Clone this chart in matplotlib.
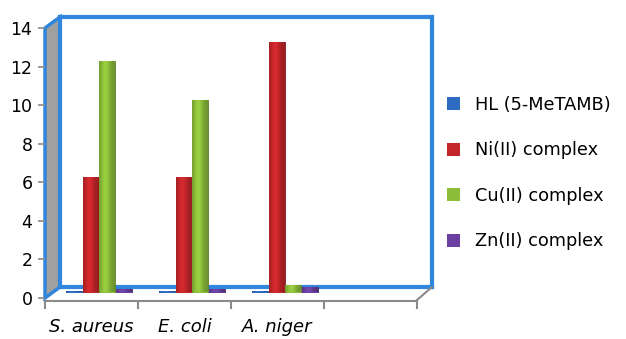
import numpy as np
import matplotlib
matplotlib.use("Agg")
import matplotlib.pyplot as plt
from matplotlib.patches import Polygon, Patch
from matplotlib.lines import Line2D
from matplotlib.colors import to_rgb

# ---- data ----
categories = ["S. aureus", "E. coli", "A. niger", ""]
series_names = ["HL (5-MeTAMB)", "Ni(II) complex", "Cu(II) complex", "Zn(II) complex"]
hl_vals = [0.1, 0.1, 0.1]
ni_vals = [6.0, 6.0, 13.0]
cu_vals = [12.0, 10.0, 0.4]
zn_vals = [0.2, 0.2, 0.3]
y_ticks = [0, 2, 4, 6, 8, 10, 12, 14]

colors = ["#2d6cc0", "#c3262a", "#8cbd3a", "#6a3f9f"]
FRAME = "#2f86dc"

W, H = 626, 339
fig = plt.figure(figsize=(W / 100, H / 100), dpi=100)
plt.rcParams["font.family"] = ["DejaVu Sans"]

def fx(px):
    return px / W

def fy(py):
    return 1 - py / H

# front plane in pixel coords
x0, x1 = 45, 417
y0, y14 = 298, 28
dx, dy = 15, -11  # depth offset

def rect(left, top, right, bottom):
    return [fx(left), fy(bottom), fx(right) - fx(left), fy(top) - fy(bottom)]

# decor: left gray wall
wall = Polygon([(fx(x0), fy(y0)), (fx(x0), fy(y14)), (fx(x0 + dx), fy(y14 + dy)),
                (fx(x0 + dx), fy(y0 + dy))], closed=True, transform=fig.transFigure,
               facecolor="#a0a0a0", edgecolor=FRAME, linewidth=2.5, zorder=0)
fig.add_artist(wall)

# back wall axes
axw = fig.add_axes(rect(x0 + dx, y14 + dy, x1 + dx, y0 + dy))
axw.set_xticks([]); axw.set_yticks([])
for s in axw.spines.values():
    s.set_color(FRAME); s.set_linewidth(3)
axw.patch.set_alpha(0)

# floor right edge (gray)
fig.add_artist(Line2D([fx(x1), fx(x1 + dx)], [fy(y0 + 2), fy(y0 + dy)],
                      transform=fig.transFigure, color="#8a8a8a", lw=1.5))

# front axes (ticks)
ax = fig.add_axes(rect(x0, y14, x1, y0))
ax.patch.set_alpha(0)
ax.set_xlim(0, 4)
ax.set_ylim(0, 14)
ax.set_yticks(y_ticks)
ax.set_yticklabels([str(t) for t in y_ticks], fontsize=12.5)
ax.set_xticks([0, 1, 2, 3, 4])
ax.set_xticklabels([])
ax.tick_params(axis="x", which="major", length=6, color="#8a8a8a", width=1.5)
ax.tick_params(axis="y", length=5, color="#8a8a8a", width=1.2, pad=4)
for s in ["top", "right", "left"]:
    ax.spines[s].set_visible(False)
ax.spines["bottom"].set_color("#8a8a8a")
ax.spines["bottom"].set_linewidth(1.5)
ax.spines["bottom"].set_position(("outward", 2))
for i, lab in enumerate(categories):
    if lab:
        ax.text(i + 0.5, -1.5, lab, ha="center", va="center", fontsize=13,
                style="italic", transform=ax.transData, clip_on=False)

# bar axes (mid-depth)
axb = fig.add_axes(rect(x0 + dx / 2, y14 + dy / 2, x1 + dx / 2, y0 + dy / 2))
axb.set_xlim(0, 4); axb.set_ylim(0, 14)
axb.axis("off")

series = [hl_vals, ni_vals, cu_vals, zn_vals]
bw = 0.18
xpos = np.arange(3) + 0.5
for i, (vals, col) in enumerate(zip(series, colors)):
    bars = axb.bar(xpos + (i - 1.5) * bw, vals, width=bw * 0.95, color=col,
                   edgecolor=tuple(c * 0.65 for c in to_rgb(col)), linewidth=0.6, zorder=2)
    base = np.array(to_rgb(col))
    t = np.linspace(0, 1, 64)
    shade = 0.78 + 0.32 * np.exp(-((t - 0.4) / 0.32) ** 2)
    grad = np.clip(base[None, :] * shade[:, None], 0, 1)
    img = grad[None, :, :]
    for b in bars:
        xb, yb = b.get_x(), b.get_y()
        w, h = b.get_width(), b.get_height()
        im = axb.imshow(img, extent=[xb, xb + w, yb, yb + h], aspect="auto",
                        zorder=3, interpolation="bilinear")
        im.set_clip_path(b)
axb.set_xlim(0, 4); axb.set_ylim(0, 14)

handles = [Patch(facecolor=c, edgecolor="none") for c in colors]
fig.legend(handles, series_names, loc="center left",
           bbox_to_anchor=(fx(447), fy(173)), frameon=False, fontsize=12.8,
           handlelength=0.75, handleheight=0.75, handletextpad=0.85,
           labelspacing=1.55, borderpad=0, borderaxespad=0)

fig.savefig("out.png", dpi=100)
